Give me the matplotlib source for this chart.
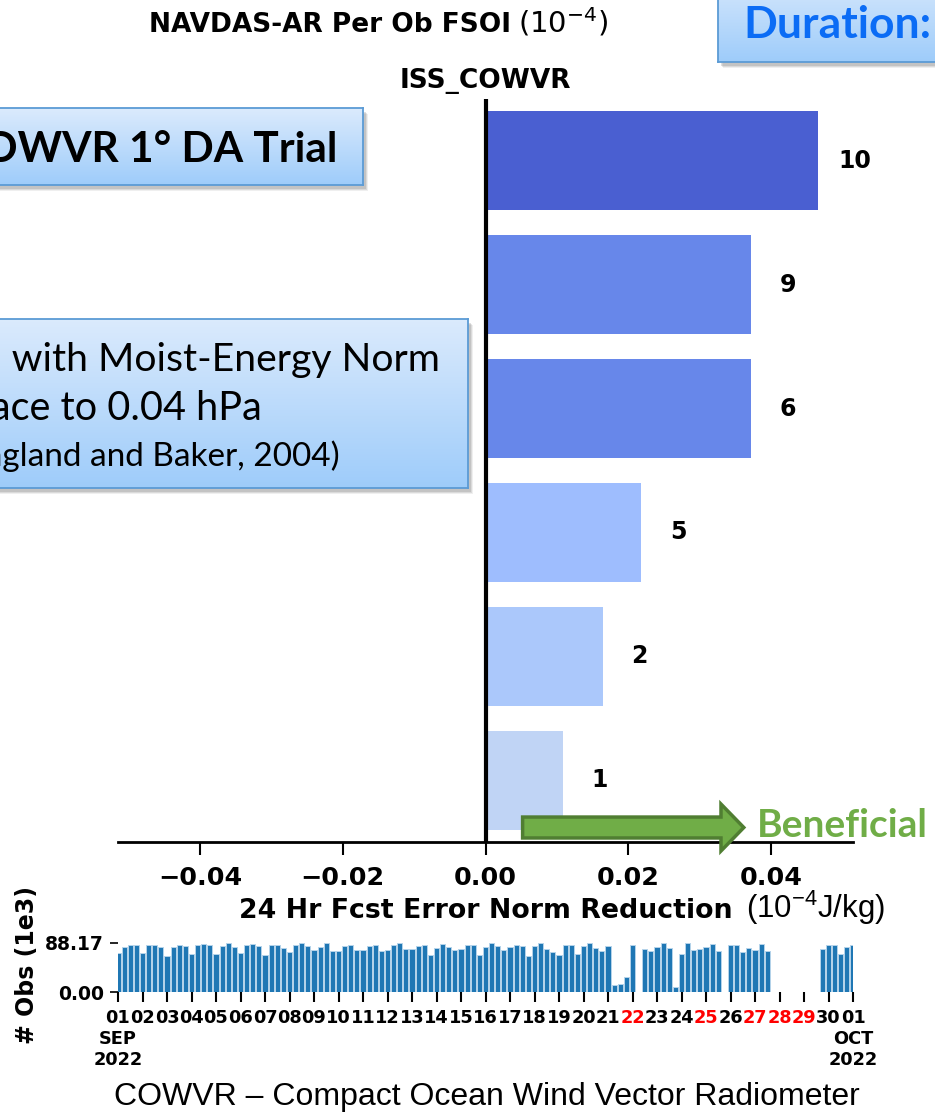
import numpy as np
import matplotlib
matplotlib.use('Agg')
import matplotlib.pyplot as plt
from matplotlib.patches import Rectangle, FancyArrow

plt.rcParams['mathtext.fontset'] = 'custom'
plt.rcParams['mathtext.rm'] = 'Liberation Sans'
plt.rcParams['mathtext.it'] = 'Liberation Sans:italic'
plt.rcParams['mathtext.bf'] = 'Liberation Sans:bold'

W, H = 935, 1118

# FSOI bars (bottom to top)
bar_labels = ['1', '2', '5', '6', '9', '10']
fsoi_values = [0.0108, 0.0164, 0.0218, 0.0372, 0.0372, 0.0466]
bar_colors = ['#c0d4f5', '#abc8fb', '#9ebdfe', '#6787ea', '#6787ea', '#4a5fd1']

# observation counts (1e3), 6-hourly from 01 SEP 00Z to 01 OCT 00Z, None = no data
obs_counts = [
    70.3, 81.0, 84.6, 83.4, 69.0, 84.6, 84.6, 80.0, 64.4, 81.0,
    83.4, 82.2, 67.3, 83.4, 85.8, 84.6, 68.0, 82.2, 87.0, 80.0,
    69.0, 83.4, 85.8, 82.2, 66.8, 83.4, 84.6, 78.7, 71.5, 83.4,
    87.0, 82.2, 75.1, 81.0, 87.0, 73.9, 73.9, 82.2, 84.6, 75.1,
    75.1, 82.2, 84.6, 72.7, 75.1, 83.4, 87.0, 76.3, 77.5, 82.2,
    84.6, 65.6, 78.7, 85.8, 80.0, 75.1, 77.5, 83.4, 83.4, 66.8,
    81.0, 87.0, 82.2, 75.1, 81.0, 83.4, 82.2, 64.4, 82.2, 87.0,
    76.3, 71.5, 66.8, 83.4, 83.4, 68.0, 82.2, 87.0, 78.7, 73.9,
    82.2, 13.1, 14.3, 27.4, 83.4, None, 77.5, 73.9, 80.0, 88.17,
    78.7, 9.5, 68.0, 87.0, 75.1, 76.3, 81.0, 85.8, 72.7, None,
    84.6, 84.6, 71.5, 78.7, 75.1, 85.8, 72.7, None, None, None,
    0.3, None, None, None, None, 76.3, 83.4, 84.6, 68.0, 81.0,
    84.6,
]
obs_max = 88.17
day_labels = ['%02d' % d for d in range(1, 31)] + ['01']
red_days = ['22', '25', '27', '28', '29']


def px_rect(x0, y0, x1, y1):
    return [x0 / W, 1 - y1 / H, (x1 - x0) / W, (y1 - y0) / H]


def add_box(fig, x0, y0, x1, y1):
    # soft drop shadow
    for off, a in [(5, 0.12), (4, 0.18), (3, 0.25)]:
        fig.add_artist(Rectangle(((x0 + off) / W, 1 - (y1 + off + 1) / H), (x1 - x0) / W,
                                 (y1 - y0) / H, transform=fig.transFigure, facecolor='0.5',
                                 alpha=a, edgecolor='none', zorder=4))
    bx = fig.add_axes(px_rect(x0, y0, x1, y1), zorder=5)
    grad = np.linspace(0, 1, 256)[:, None]
    top = np.array([0.86, 0.92, 0.99])
    bot = np.array([0.62, 0.80, 0.98])
    img = top[None, None, :] * (1 - grad[..., None]) + bot[None, None, :] * grad[..., None]
    bx.imshow(img, aspect='auto', extent=[0, 1, 0, 1])
    bx.set_xticks([])
    bx.set_yticks([])
    for s in bx.spines.values():
        s.set_color('#5b9bd5')
        s.set_linewidth(1.3)
    return bx


fig = plt.figure(figsize=(W / 100, H / 100), dpi=100)

# main FSOI axes
ax = fig.add_axes(px_rect(118, 99, 853, 842))
ypos = np.arange(len(fsoi_values))
ax.barh(ypos, fsoi_values, height=0.8, color=bar_colors, zorder=2)
for y, v, lab in zip(ypos, fsoi_values, bar_labels):
    ax.text(v + 0.0052, y, lab, ha='center', va='center', fontsize=17, fontweight='bold')
ax.axvline(0, color='black', lw=3, zorder=3)
ax.set_xlim(-0.0515, 0.0515)
ax.set_ylim(-0.5, 5.5)
ax.set_yticks([])
ax.set_xticks([-0.04, -0.02, 0.0, 0.02, 0.04])
ax.set_xticklabels(['\u22120.04', '\u22120.02', '0.00', '0.02', '0.04'],
                   fontsize=18.3, fontweight='bold')
ax.tick_params(axis='x', length=9, width=1.5, pad=8)
for side in ['top', 'left', 'right']:
    ax.spines[side].set_visible(False)
ax.spines['bottom'].set_linewidth(2)
ax.set_title('ISS_COWVR', fontsize=19, fontweight='bold', pad=8)
ax.set_xlabel('24 Hr Fcst Error Norm Reduction', fontsize=19.3, fontweight='bold', labelpad=6)

# beneficial arrow
arr = FancyArrow(0.0052, -0.383, 0.031, 0, width=0.169, head_width=0.379, head_length=0.0032,
                 length_includes_head=True, facecolor='#70ad47', edgecolor='#507e32',
                 lw=2.5, clip_on=False, zorder=10)
ax.add_patch(arr)
fig.text(757 / W, 1 - 837 / H, 'Beneficial', color='#70ad47', fontsize=28, fontweight='bold',
         family='Lato', va='baseline')

fig.text(746 / W, 1 - 918 / H, '(10$^{-4}$J/kg)', fontsize=22.5, family='Liberation Sans',
         va='baseline')

# titles
fig.text(511 / W, 1 - 32 / H, 'NAVDAS-AR Per Ob FSOI', ha='right', va='baseline',
         fontsize=19, fontweight='bold')
fig.text(518 / W, 1 - 32 / H, r'$(10^{-4})$', ha='left', va='baseline', fontsize=21,
         math_fontfamily='dejavusans')

# obs count axes
ax2 = fig.add_axes(px_rect(118, 942.7, 853, 992.3))
counts = np.array([np.nan if c is None else c for c in obs_counts])
t = np.arange(len(counts)) * 0.25
ax2.bar(t, counts, width=0.205, color='#1f77b4', edgecolor='#b5d3ea', lw=0.7)
ax2.set_xlim(0, 30)
ax2.set_ylim(0, obs_max)
ax2.set_yticks([0, obs_max])
ax2.set_yticklabels(['0.00', '%.2f' % obs_max], fontsize=13.5, fontweight='bold')
ticklabs = list(day_labels)
ticklabs[0] = '01\nSEP\n2022'
ticklabs[-1] = '01\nOCT\n2022'
ax2.set_xticks(np.arange(31))
ax2.set_xticklabels(ticklabs, va='top', ha='center', multialignment='center',
                    fontsize=12.8, fontweight='bold')
for lab, d in zip(ax2.get_xticklabels(), day_labels):
    if d in red_days:
        lab.set_color('red')
ax2.tick_params(axis='x', length=7, width=1.5, pad=5)
ax2.tick_params(axis='y', length=6, width=1.2, pad=4)
for s in ax2.spines.values():
    s.set_visible(False)
ax2.set_ylabel('# Obs (1e3)', fontsize=17, fontweight='bold')
ax2.yaxis.set_label_coords(-0.108, 0.55)

fig.text(487 / W, 1 - 1097 / H, 'COWVR \u2013 Compact Ocean Wind Vector Radiometer',
         ha='center', va='center', fontsize=23, family='Liberation Sans')

# text boxes
add_box(fig, -30, 108, 363, 185)
fig.text(337 / W, 1 - 162 / H, 'ISS COWVR 1\u00b0 DA Trial', ha='right', va='baseline',
         fontsize=30.5, fontweight='bold', family='Lato', zorder=6)

add_box(fig, -30, 319, 468, 488)
fig.text(440 / W, 1 - 371 / H, 'Adjoint Model with Moist-Energy Norm', ha='right',
         va='baseline', fontsize=28.2, family='Lato', zorder=6)
fig.text(262 / W, 1 - 420 / H, 'Surface to 0.04 hPa', ha='right', va='baseline',
         fontsize=28.5, family='Lato', zorder=6)
fig.text(340 / W, 1 - 466 / H, '(Langland and Baker, 2004)', ha='right', va='baseline',
         fontsize=24, family='Lato', zorder=6)

add_box(fig, 718, -30, 965, 62)
fig.text(743 / W, 1 - 38 / H, 'Duration:', ha='left', va='baseline', fontsize=32,
         fontweight='bold', family='Lato', color='#0b6cf5', zorder=6)

fig.savefig('out.png', dpi=100)
